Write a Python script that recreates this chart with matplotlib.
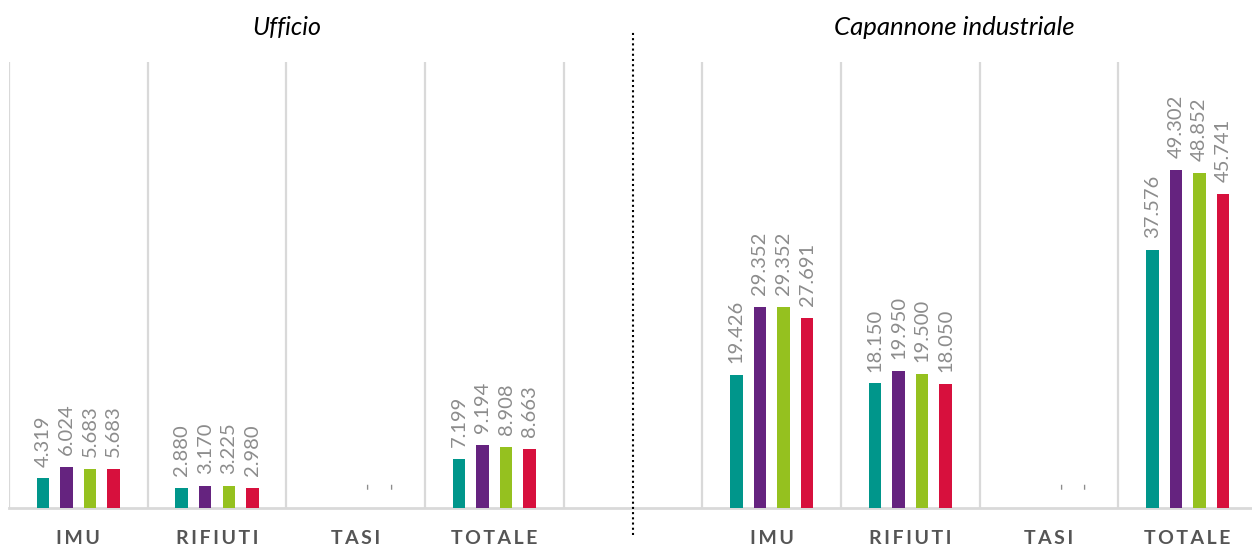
import numpy as np
import matplotlib
matplotlib.use("Agg")
import matplotlib.pyplot as plt

# data
categories = ["IMU", "RIFIUTI", "TASI", "TOTALE"]
titles = ["Ufficio", "Capannone industriale"]
colors = ["#00968B", "#65237F", "#95C11F", "#D7103D"]

# one list per series, values for (IMU, RIFIUTI, TASI, TOTALE); nan = no value shown
ufficio_s1 = [4319, 2880, np.nan, 7199]
ufficio_s2 = [6024, 3170, np.nan, 9194]
ufficio_s3 = [5683, 3225, 0, 8908]
ufficio_s4 = [5683, 2980, 0, 8663]

capannone_s1 = [19426, 18150, np.nan, 37576]
capannone_s2 = [29352, 19950, np.nan, 49302]
capannone_s3 = [29352, 19500, 0, 48852]
capannone_s4 = [27691, 18050, 0, 45741]

ufficio = [ufficio_s1, ufficio_s2, ufficio_s3, ufficio_s4]
capannone = [capannone_s1, capannone_s2, capannone_s3, capannone_s4]

plt.rcParams['font.family'] = ['Lato', 'DejaVu Sans']

fig = plt.figure(figsize=(12.52, 5.49), dpi=100)
W, H = 1252, 549
ax = fig.add_axes([9 / W, 41 / H, 1248 / W, 446 / H])

n_cat = len(categories)
x_left = np.arange(n_cat)
x_right = np.arange(n_cat) + n_cat + 1
step = 0.17
width = 0.09
offsets = (np.arange(4) - 1.5) * step


def fmt(v):
    if v == 0:
        return "-"
    return f"{int(v):,}".replace(",", ".")


for xs, block in [(x_left, ufficio), (x_right, capannone)]:
    for i, vals in enumerate(block):
        vals = np.array(vals, dtype=float)
        pos = xs + offsets[i]
        ax.bar(pos, np.nan_to_num(vals), width=width, color=colors[i],
               edgecolor="none", zorder=3)
        for p, v in zip(pos, vals):
            if np.isnan(v):
                continue
            dy = 14 if v == 0 else 8.5  # the dash sits a bit higher
            ax.annotate(fmt(v), (p, v), xytext=(0, dy), textcoords="offset points",
                        rotation=90, ha="center", va="bottom", fontsize=14.5,
                        color="#8c8c8c")

ax.set_xlim(-0.5, 2 * n_cat + 0.5)
ax.set_ylim(0, 65000)

# vertical grid lines at category boundaries
for b in np.arange(-0.5, 2 * n_cat + 0.5, 1.0):
    ax.axvline(b, color="#d9d9d9", lw=1.6, zorder=1)

for s in ["top", "right", "left"]:
    ax.spines[s].set_visible(False)
ax.spines["bottom"].set_color("#d9d9d9")
ax.spines["bottom"].set_linewidth(2)
ax.set_yticks([])

ticks = list(x_left) + list(x_right)
labels = ["\u2009".join(c) for c in categories] * 2
ax.set_xticks(ticks)
ax.set_xticklabels(labels, fontsize=14, fontweight="bold", color="#555555")
ax.tick_params(axis="x", length=0, pad=16)

# dotted separator in the empty slot
sep = ax.axvline(n_cat, ymin=-0.06, ymax=1.07, color="black", lw=1.5,
                 linestyle=(0, (1, 1.5)), zorder=4)
sep.set_clip_on(False)

ax.text(1.5, 1.077, titles[0], transform=ax.get_xaxis_transform(),
        ha="center", va="center", fontsize=18, style="italic", color="black")
ax.text(6.32, 1.077, titles[1], transform=ax.get_xaxis_transform(),
        ha="center", va="center", fontsize=18.5, style="italic", color="black")

fig.savefig("out.png", dpi=100)
